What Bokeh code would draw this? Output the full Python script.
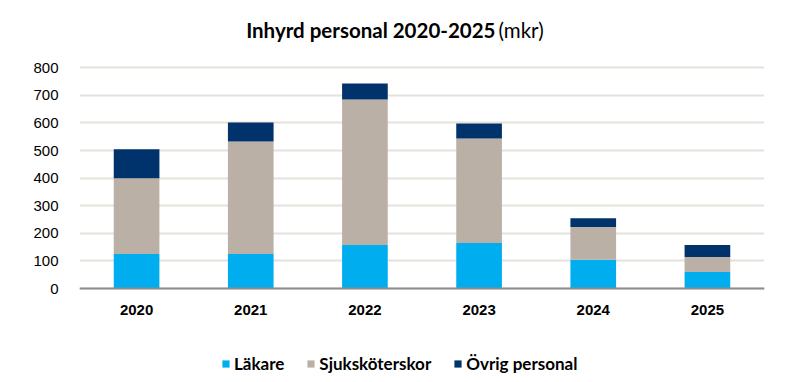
from bokeh.plotting import figure
from bokeh.models import ColumnDataSource, FixedTicker, Legend, LegendItem, Label
from bokeh.embed import file_html
from bokeh.resources import INLINE

years = ["2020", "2021", "2022", "2023", "2024", "2025"]
lakare = [125, 125, 158, 165, 104, 60]
sjukskoterskor = [275, 408, 527, 379, 119, 54]
ovrig = [105, 69, 58, 54, 32, 44]
series = ["Läkare", "Sjuksköterskor", "Övrig personal"]
colors = ["#00AEEF", "#BAB0A6", "#00336B"]
y_ticks = [0, 100, 200, 300, 400, 500, 600, 700, 800]

source = ColumnDataSource(data={"year": years, "Läkare": lakare,
                                "Sjuksköterskor": sjukskoterskor,
                                "Övrig personal": ovrig})

p = figure(x_range=years, y_range=(-333, 1000), frame_width=685, frame_height=368,
           output_backend="svg", toolbar_location=None,
           min_border_left=79, min_border_right=16, min_border_top=12,
           min_border_bottom=0)

rs = p.vbar_stack(series, x="year", width=0.4, color=colors, source=source,
                  line_width=0)

p.outline_line_color = None
p.xgrid.grid_line_color = None
p.ygrid.grid_line_color = "#E6E1DA"
p.ygrid.grid_line_width = 2
p.yaxis.ticker = FixedTicker(ticks=y_ticks)
p.yaxis.axis_line_color = None
p.yaxis.major_tick_line_color = None
p.yaxis.minor_tick_line_color = None
p.yaxis.major_label_text_font = "Liberation Sans"
p.yaxis.major_label_text_font_size = "15px"
p.yaxis.major_label_text_color = "#000000"
p.yaxis.major_label_standoff = 15

p.xaxis.fixed_location = 0
p.xaxis.axis_line_color = "#8C8C8C"
p.xaxis.axis_line_width = 2
p.xaxis.major_tick_line_color = None
p.xaxis.minor_tick_line_color = None
p.xaxis.major_label_text_font = "Liberation Sans"
p.xaxis.major_label_text_font_style = "bold"
p.xaxis.major_label_text_font_size = "15px"
p.xaxis.major_label_text_color = "#000000"
p.xaxis.major_label_standoff = 10

legend = Legend(items=[LegendItem(label=s, renderers=[r]) for s, r in zip(series, rs)],
                orientation="horizontal", location=(142, 6),
                label_text_font="Lato", label_text_font_style="bold",
                label_text_font_size="17px", label_text_color="#000000",
                glyph_width=9, glyph_height=9, label_standoff=4, spacing=22,
                border_line_color=None, background_fill_alpha=0, padding=4, margin=0)
p.add_layout(legend, "center")

t1 = Label(x=416, y=935, x_units="screen", y_units="data",
           text="Inhyrd personal 2020-2025", text_font="Lato",
           text_font_style="bold", text_font_size="20.5px", text_align="right",
           text_baseline="middle", text_color="#000000")
t2 = Label(x=419, y=935, x_units="screen", y_units="data",
           text="(mkr)", text_font="Lato", text_font_style="normal",
           text_font_size="20.5px", text_align="left",
           text_baseline="middle", text_color="#000000")
p.add_layout(t1)
p.add_layout(t2)

open("out.html", "w").write(file_html(p, INLINE))
